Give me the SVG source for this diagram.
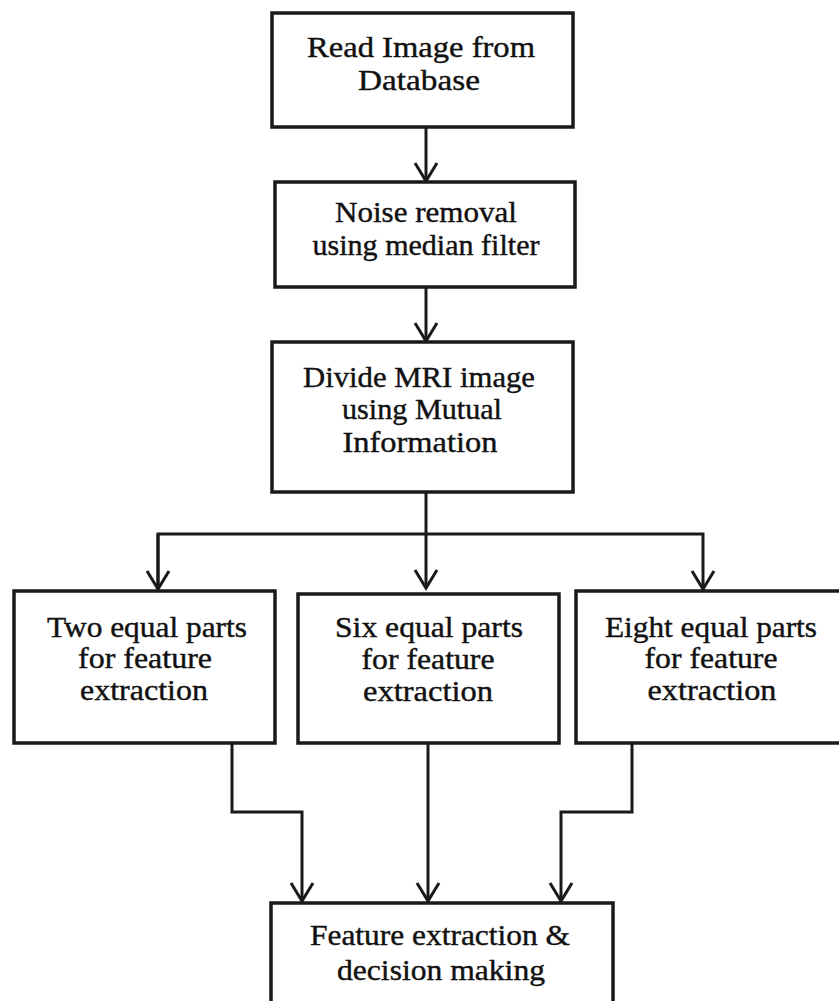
<svg xmlns="http://www.w3.org/2000/svg" width="839" height="1001" viewBox="0 0 839 1001">
<style>
.box{fill:#fff;stroke:#1a1a1a;stroke-width:3.5}
.lbl{font-family:"Liberation Serif","Times New Roman",serif;font-size:29px;fill:#111;stroke:#111;stroke-width:0.4;text-anchor:middle}
.con{fill:none;stroke:#1a1a1a;stroke-width:3;stroke-linejoin:miter}
</style>
<defs>
<marker id="arr" viewBox="-20 -13 22 26" refX="0" refY="0" markerWidth="22" markerHeight="26" markerUnits="userSpaceOnUse" orient="auto" overflow="visible">
<path d="M-18,-11 L0,0 L-18,11" fill="none" stroke="#1a1a1a" stroke-width="3"/>
</marker>
</defs>
<rect width="839" height="1001" fill="#fff"/>
<g id="connectors">
<path class="con" d="M426,127 V181" marker-end="url(#arr)"/>
<path class="con" d="M426,287 V341" marker-end="url(#arr)"/>
<path class="con" d="M426,492 V588" marker-end="url(#arr)"/>
<path class="con" d="M158,589 V534 H703 V589" marker-end="url(#arr)"/>
<path class="con" d="M158,534 V589" marker-end="url(#arr)"/>
<path class="con" d="M232,743 V812 H302 V901" marker-end="url(#arr)"/>
<path class="con" d="M428,743 V901" marker-end="url(#arr)"/>
<path class="con" d="M632,743 V812 H561 V901" marker-end="url(#arr)"/>
</g>
<g id="n1">
<rect class="box" x="272" y="13" width="301" height="114"/>
<text class="lbl" x="421" y="57" textLength="228" lengthAdjust="spacingAndGlyphs">Read Image from</text>
<text class="lbl" x="419" y="90" textLength="122" lengthAdjust="spacingAndGlyphs">Database</text>
</g>
<g id="n2">
<rect class="box" x="275" y="182" width="300" height="105"/>
<text class="lbl" x="426" y="222" textLength="182" lengthAdjust="spacingAndGlyphs">Noise removal</text>
<text class="lbl" x="426" y="255" textLength="227" lengthAdjust="spacingAndGlyphs">using median filter</text>
</g>
<g id="n3">
<rect class="box" x="272" y="342" width="301" height="150"/>
<text class="lbl" x="419" y="387" textLength="232" lengthAdjust="spacingAndGlyphs">Divide MRI image</text>
<text class="lbl" x="422" y="419" textLength="160" lengthAdjust="spacingAndGlyphs">using Mutual</text>
<text class="lbl" x="420" y="452" textLength="155" lengthAdjust="spacingAndGlyphs">Information</text>
</g>
<g id="n4">
<rect class="box" x="14" y="591" width="261" height="152"/>
<text class="lbl" x="147" y="637" textLength="200" lengthAdjust="spacingAndGlyphs">Two equal parts</text>
<text class="lbl" x="145" y="668" textLength="134" lengthAdjust="spacingAndGlyphs">for feature</text>
<text class="lbl" x="144" y="700" textLength="128" lengthAdjust="spacingAndGlyphs">extraction</text>
</g>
<g id="n5">
<rect class="box" x="298" y="594" width="261" height="149"/>
<text class="lbl" x="429" y="637" textLength="188" lengthAdjust="spacingAndGlyphs">Six equal parts</text>
<text class="lbl" x="428" y="669" textLength="133" lengthAdjust="spacingAndGlyphs">for feature</text>
<text class="lbl" x="428" y="701" textLength="130" lengthAdjust="spacingAndGlyphs">extraction</text>
</g>
<g id="n6">
<rect class="box" x="576" y="591" width="270" height="152"/>
<text class="lbl" x="711" y="637" textLength="212" lengthAdjust="spacingAndGlyphs">Eight equal parts</text>
<text class="lbl" x="711" y="668" textLength="133" lengthAdjust="spacingAndGlyphs">for feature</text>
<text class="lbl" x="712" y="700" textLength="129" lengthAdjust="spacingAndGlyphs">extraction</text>
</g>
<g id="n7">
<rect class="box" x="271" y="903" width="342" height="110"/>
<text class="lbl" x="440" y="945" textLength="260" lengthAdjust="spacingAndGlyphs">Feature extraction &amp;</text>
<text class="lbl" x="441" y="980" textLength="208" lengthAdjust="spacingAndGlyphs">decision making</text>
</g>
</svg>
